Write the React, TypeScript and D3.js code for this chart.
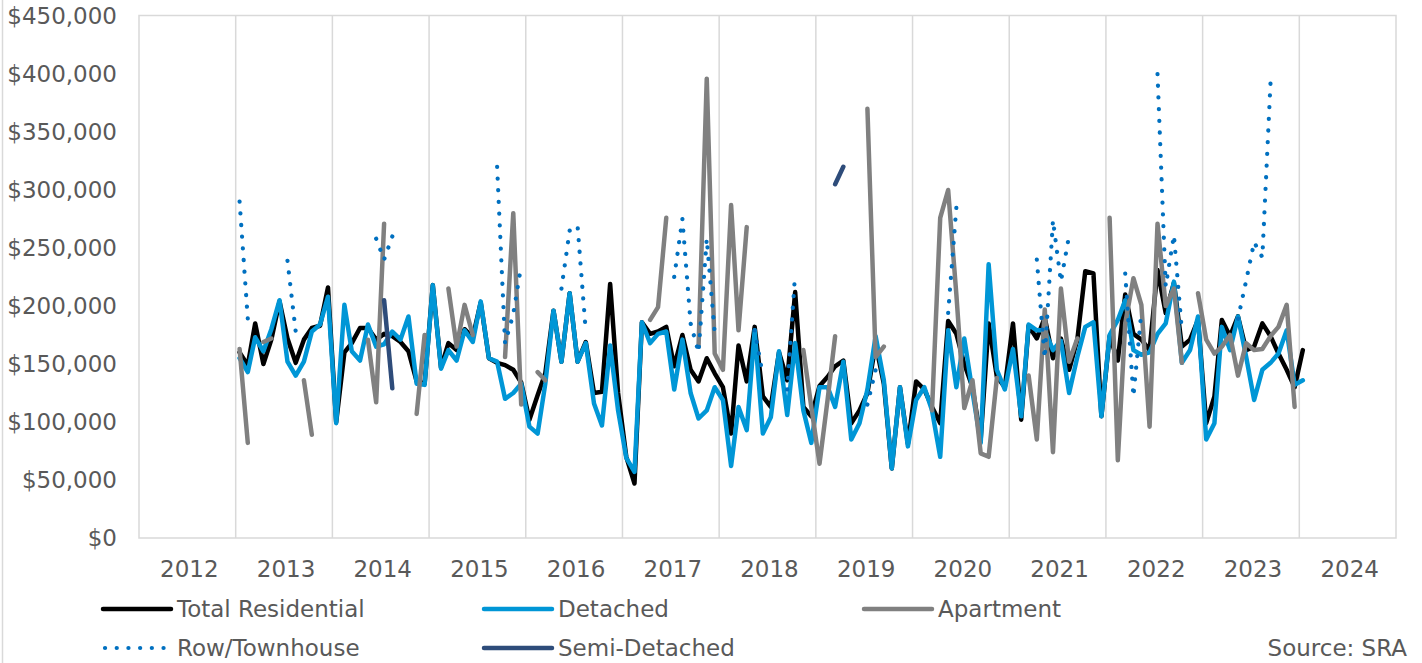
import React, { useRef, useEffect } from 'react';
import * as d3 from 'd3';

// category labels along the bottom
const years = ['2012', '2013', '2014', '2015', '2016', '2017', '2018', '2019', '2020', '2021', '2022', '2023', '2024'];

// y axis ticks ($)
const yTicks = [0, 50000, 100000, 150000, 200000, 250000, 300000, 350000, 400000, 450000];

// monthly values in $ thousands, Jan 2013 .. Jan 2024 (one row per year)
const totalResidential: (number | null)[] = [
  160, 149, 185, 150, 171, 204, 172, 151, 171, 181, 183, 216,
  100, 160, 168, 181, 181, 171, 176, 174, 169, 161, 135, 133,
  218, 147, 168, 162, 180, 173, 203, 155, 151, 149, 145, 134,
  102, 123, 142, 196, 152, 211, 152, 169, 125, 126, 219, 125,
  70, 47, 186, 176, 178, 182, 148, 175, 145, 135, 155, 142,
  130, 90, 166, 135, 182, 122, 113, 160, 136, 212, 113, 105,
  131, 139, 148, 153, 99, 110, 125, 167, 133, 60, 130, 81,
  135, 128, 113, 99, 187, 176, 150, 130, 85, 185, 139, 130,
  185, 102, 183, 172, 190, 155, 172, 145, 171, 230, 228, 105,
  174, 153, 210, 176, 171, 162, 231, 194, 220, 165, 171, 188,
  99, 122, 188, 174, 191, 162, 165, 185, 174, 159, 145, 130,
  162,
];

const detached: (number | null)[] = [
  155, 143, 173, 161, 180, 205, 152, 140, 152, 178, 184, 208,
  99, 201, 161, 153, 184, 165, 167, 178, 171, 191, 133, 132,
  218, 146, 162, 153, 179, 169, 204, 155, 152, 120, 125, 133,
  96, 90, 133, 196, 152, 211, 152, 168, 116, 97, 166, 110,
  69, 57, 186, 168, 176, 178, 128, 171, 125, 103, 110, 130,
  119, 62, 113, 93, 179, 90, 104, 161, 106, 168, 110, 82,
  130, 130, 113, 152, 85, 99, 128, 174, 136, 60, 130, 79,
  119, 130, 110, 70, 179, 130, 172, 126, 82, 236, 145, 128,
  163, 105, 184, 179, 179, 162, 170, 125, 156, 182, 186, 105,
  175, 188, 205, 162, 158, 160, 176, 185, 221, 151, 162, 191,
  85, 99, 182, 162, 191, 156, 119, 145, 151, 159, 179, 132,
  136,
];

const apartment: (number | null)[] = [
  163, 82, null, 169, 172, null, null, null, 136, 89, null, null,
  null, null, null, null, 171, 117, 271, null, null, null, 107, 175,
  null, null, 215, 165, 201, 175, null, null, null, 156, 280, 115,
  null, 143, 136, null, null, null, null, null, null, null, null, null,
  null, null, null, 188, 199, 276, null, null, null, 165, 396, 159,
  145, 287, 179, 268, null, null, null, null, null, null, 162, 113,
  64, 120, 174, null, null, null, 370, 156, 165, null, null, null,
  null, null, 110, 276, 300, 210, 112, 136, 73, 70, 138, null,
  null, null, 140, 85, 197, 74, 215, 152, 172, null, null, null,
  276, 67, 185, 224, 201, 96, 271, 200, 215, 151, null, 211,
  171, 159, 165, 175, 140, 168, 162, 163, 174, 182, 201, 113,
  null,
];

const rowTownhouse: (number | null)[] = [
  290, 189, null, null, null, null, 239, 178, null, null, null, null,
  null, null, null, null, null, 258, 240, 260, null, null, null, null,
  null, null, null, null, null, null, null, null, 320, 168, 193, 235,
  null, null, null, null, 215, 265, 269, 178, null, null, null, null,
  null, null, null, null, null, null, 225, 275, 185, 160, 258, 177,
  null, null, null, null, 179, 140, null, null, 128, 228, null, null,
  null, null, null, null, null, null, 115, 145, null, null, null, null,
  null, null, null, null, 194, 285, null, null, null, null, null, null,
  null, null, null, 240, 155, 274, 221, 261, null, null, null, null,
  null, null, 228, 122, 195, null, 400, 217, 261, 179, null, null,
  null, null, null, null, 189, 222, 255, 242, 393, null, null, null,
  null,
];

const semiDetached: (number | null)[] = [
  null, null, null, null, null, null, null, null, null, null, null, null,
  null, null, null, null, null, null, 205, 129, null, null, null, null,
  null, null, null, null, null, null, null, null, null, null, null, null,
  null, null, null, null, null, null, null, null, null, null, null, null,
  null, null, null, null, null, null, null, null, null, null, null, null,
  null, null, null, null, null, null, null, null, null, null, null, null,
  null, null, 305, 320, null, null, null, null, null, null, null, null,
  null, null, null, null, null, null, null, null, null, null, null, null,
  null, null, null, null, null, null, null, null, null, null, null, null,
  null, null, null, null, null, null, null, null, null, null, null, null,
  null, null, null, null, null, null, null, null, null, null, null, null,
  null,
];

interface Series {
  name: string;
  values: (number | null)[];
  color: string;
  width: number;
  dash?: string;
}

const series: Series[] = [
  { name: 'Total Residential', values: totalResidential, color: '#000000', width: 4.5 },
  { name: 'Detached', values: detached, color: '#0096D6', width: 4.5 },
  { name: 'Apartment', values: apartment, color: '#808080', width: 4.5 },
  { name: 'Row/Townhouse', values: rowTownhouse, color: '#0070C0', width: 4.2, dash: '0.1,11.6' },
  { name: 'Semi-Detached', values: semiDetached, color: '#2E4C7A', width: 4.5 },
];

const WIDTH = 1422;
const HEIGHT = 663;
const FONT = '"DejaVu Sans", Verdana, sans-serif';
const FONT_SIZE = 23;
const TEXT = '#595959';
const GRID = '#D9D9D9';

const App: React.FC = () => {
  const svgRef = useRef<SVGSVGElement | null>(null);

  useEffect(() => {
    if (!svgRef.current) return;
    document.body.style.margin = '0';

    const svg = d3.select(svgRef.current);
    svg.selectAll('*').remove();

    const left = 139, right = 1396, top = 16, bottom = 538;

    const x = d3.scaleTime()
      .domain([new Date(2012, 0, 1), new Date(2025, 0, 1)])
      .range([left, right]);
    const band = d3.scaleBand().domain(years).range([left, right]);
    const y = d3.scaleLinear().domain([0, 450000]).range([bottom, top]);

    const monthDate = (i: number) => new Date(2013, i, 15);

    // outer chart border (left edge)
    svg.append('line')
      .attr('x1', 2.5).attr('x2', 2.5).attr('y1', 0).attr('y2', HEIGHT)
      .attr('stroke', GRID).attr('stroke-width', 1.5);

    // vertical gridlines between year categories
    svg.append('g')
      .selectAll('line')
      .data(years.slice(1))
      .join('line')
      .attr('x1', d => band(d)!)
      .attr('x2', d => band(d)!)
      .attr('y1', top)
      .attr('y2', bottom)
      .attr('stroke', GRID)
      .attr('stroke-width', 1.5);

    // plot area border
    svg.append('rect')
      .attr('x', left).attr('y', top - 0.5)
      .attr('width', right - left).attr('height', bottom - top + 0.5)
      .attr('fill', 'none')
      .attr('stroke', GRID)
      .attr('stroke-width', 1.5);

    // y labels
    svg.append('g')
      .selectAll('text')
      .data(yTicks)
      .join('text')
      .attr('x', 117)
      .attr('y', d => y(d))
      .attr('dy', '0.36em')
      .attr('text-anchor', 'end')
      .attr('font-family', FONT)
      .attr('font-size', FONT_SIZE)
      .attr('fill', TEXT)
      .text(d => '$' + d3.format(',')(d));

    // x labels (centered in each year band)
    svg.append('g')
      .selectAll('text')
      .data(years)
      .join('text')
      .attr('x', d => band(d)! + band.bandwidth() / 2 + 2)
      .attr('y', 577)
      .attr('text-anchor', 'middle')
      .attr('font-family', FONT)
      .attr('font-size', FONT_SIZE)
      .attr('fill', TEXT)
      .text(d => d);

    // lines
    const line = d3.line<number | null>()
      .defined(d => d != null)
      .x((_, i) => x(monthDate(i)))
      .y(d => y((d as number) * 1000));

    const g = svg.append('g');
    series.forEach(s => {
      g.append('path')
        .datum(s.values)
        .attr('fill', 'none')
        .attr('stroke', s.color)
        .attr('stroke-width', s.width)
        .attr('stroke-linejoin', 'round')
        .attr('stroke-linecap', 'round')
        .attr('stroke-dasharray', s.dash ?? null)
        .attr('d', line);
    });

    // legend
    const legendCols = [103, 484, 864];
    const legendRows = [609, 648];
    const legend = svg.append('g')
      .selectAll('g')
      .data(series)
      .join('g')
      .attr('transform', (_, i) => `translate(${legendCols[i % 3]},${legendRows[Math.floor(i / 3)]})`);

    legend.append('line')
      .attr('x1', d => (d.dash ? 2 : 0))
      .attr('x2', 68)
      .attr('y1', 0)
      .attr('y2', 0)
      .attr('stroke', d => d.color)
      .attr('stroke-width', d => d.width)
      .attr('stroke-linecap', 'round')
      .attr('stroke-dasharray', d => d.dash ?? null);

    legend.append('text')
      .attr('x', 74)
      .attr('y', 8)
      .attr('font-family', FONT)
      .attr('font-size', FONT_SIZE)
      .attr('fill', TEXT)
      .text(d => d.name);

    svg.append('text')
      .attr('x', 1407)
      .attr('y', 656)
      .attr('text-anchor', 'end')
      .attr('font-family', FONT)
      .attr('font-size', FONT_SIZE)
      .attr('fill', TEXT)
      .text('Source: SRA');
  }, []);

  return <svg ref={svgRef} width={WIDTH} height={HEIGHT} style={{ display: 'block' }} />;
};

export default App;
